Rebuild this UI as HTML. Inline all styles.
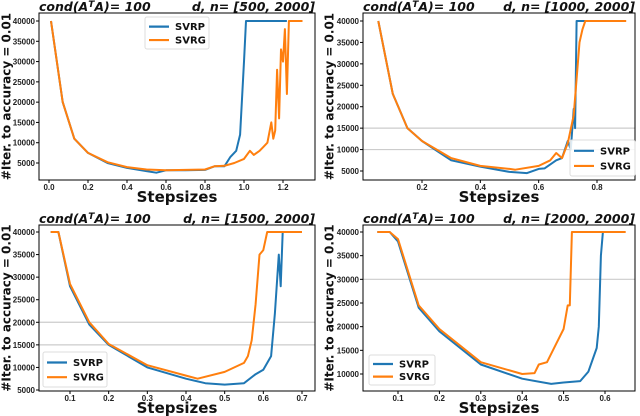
<!DOCTYPE html>
<html><head><meta charset="utf-8"><style>
body{margin:0;background:#fff;}
svg{display:block;font-family:"DejaVu Sans","Liberation Sans",sans-serif;}
.tk{font-size:8px;font-weight:bold;fill:#222;font-family:"Liberation Sans",sans-serif;}
.ttl{font-size:12.5px;font-weight:bold;font-style:italic;fill:#111;}
.xl{font-size:15px;font-weight:bold;fill:#111;}
.yl{font-size:12px;font-weight:bold;fill:#111;}
.lg{font-size:10px;font-weight:bold;fill:#111;}
</style></head><body>
<svg id="c" width="640" height="416" viewBox="0 0 640 416"></svg>
<script>
// Panel 1: d,n=[500,2000]
const p1_svrp_x=[0.01,0.07,0.13,0.2,0.3,0.4,0.5,0.55,0.6,0.7,0.8,0.85,0.9,0.93,0.96,0.98,1.0,1.01,1.22];
const p1_svrp_y=[40000,20000,11000,7500,5000,3800,3000,2600,3200,3200,3300,4200,4200,6500,8000,12000,30000,40000,40000];
const p1_svrg_x=[0.01,0.07,0.13,0.2,0.3,0.4,0.5,0.6,0.7,0.8,0.85,0.9,0.95,1.0,1.03,1.05,1.08,1.1,1.12,1.14,1.15,1.16,1.17,1.18,1.19,1.2,1.21,1.22,1.23,1.3];
const p1_svrg_y=[40000,20000,11000,7500,5200,4000,3400,3200,3300,3400,4200,4300,5000,6000,8000,7000,8000,9000,10000,15000,11000,13000,28000,16000,33000,30000,38000,22000,40000,40000];
// Panel 2: d,n=[1000,2000]
const p2_svrp_x=[0.05,0.1,0.15,0.2,0.3,0.4,0.5,0.56,0.6,0.62,0.66,0.68,0.7,0.71,0.72,0.725,0.73,0.76];
const p2_svrp_y=[40000,23000,15000,12000,7500,6000,4800,4500,5500,5600,7500,8000,12000,10000,19500,15000,40000,40000];
const p2_svrg_x=[0.05,0.1,0.15,0.2,0.3,0.4,0.5,0.52,0.6,0.64,0.66,0.68,0.7,0.72,0.74,0.75,0.76,0.9];
const p2_svrg_y=[40000,23000,15000,12000,8000,6200,5500,5300,6200,7500,9200,8000,11500,18000,35000,38000,40000,40000];
// Panel 3: d,n=[1500,2000]
const p3_svrp_x=[0.05,0.07,0.1,0.15,0.2,0.3,0.4,0.45,0.5,0.55,0.58,0.6,0.62,0.63,0.64,0.645,0.65];
const p3_svrp_y=[40000,40000,28000,19500,15000,10000,7500,6500,6200,6500,8500,9500,12500,22000,35000,28000,40000];
const p3_svrg_x=[0.05,0.07,0.1,0.15,0.2,0.3,0.4,0.43,0.5,0.55,0.56,0.57,0.58,0.59,0.6,0.61,0.7];
const p3_svrg_y=[40000,40000,28500,20000,15200,10500,8200,7500,9000,11000,12500,16000,24000,35000,36000,40000,40000];
// Panel 4: d,n=[2000,2000]
const p4_svrp_x=[0.05,0.08,0.1,0.15,0.2,0.3,0.4,0.47,0.5,0.54,0.56,0.58,0.585,0.59,0.595];
const p4_svrp_y=[40000,40000,38000,24000,19000,12000,9000,7900,8200,8500,10500,15500,20000,35000,40000];
const p4_svrg_x=[0.05,0.08,0.1,0.15,0.2,0.3,0.4,0.43,0.44,0.46,0.48,0.5,0.51,0.515,0.52,0.65];
const p4_svrg_y=[40000,40000,38500,24500,19500,12500,10000,10200,12000,12500,16000,19500,24500,24500,40000,40000];
const p1_xticks=[0.0,0.2,0.4,0.6,0.8,1.0,1.2];
const p2_xticks=[0.2,0.4,0.6,0.8];
const p3_xticks=[0.1,0.2,0.3,0.4,0.5,0.6,0.7];
const p4_xticks=[0.1,0.2,0.3,0.4,0.5,0.6];
const p1_yticks=[5000,10000,15000,20000,25000,30000,35000,40000];
const p2_yticks=[5000,10000,15000,20000,25000,30000,35000,40000];
const p3_yticks=[5000,10000,15000,20000,25000,30000,35000,40000];
const p4_yticks=[10000,15000,20000,25000,30000,35000,40000];
const p1_grid=[];const p2_grid=[15000,10000];const p3_grid=[20000,15000];const p4_grid=[30000];
const titles=["d, n= [500, 2000]","d, n= [1000, 2000]","d, n= [1500, 2000]","d, n= [2000, 2000]"];

const NS="http://www.w3.org/2000/svg";
const svg=document.getElementById('c');
function el(t,a,p){const e=document.createElementNS(NS,t);for(const k in a)e.setAttribute(k,a[k]);(p||svg).appendChild(e);return e;}

const panels=[
 {L:39,R:315,T:13,B:180,x0:0,x1:1.2,px0:49,px1:283,y0:40000,y1:5000,py0:21,py1:163,rp:[p1_svrp_x,p1_svrp_y],rg:[p1_svrg_x,p1_svrg_y],xt:p1_xticks,yt:p1_yticks,gr:p1_grid,lg:[145,17,64,32],ylx:7},
 {L:363,R:635,T:13,B:180,x0:0.2,x1:0.8,px0:422,px1:597,y0:40000,y1:5000,py0:21,py1:171,rp:[p2_svrp_x,p2_svrp_y],rg:[p2_svrg_x,p2_svrg_y],xt:p2_xticks,yt:p2_yticks,gr:p2_grid,lg:[570,140,65,36],ylx:330},
 {L:39,R:315,T:225,B:391,x0:0.1,x1:0.7,px0:70,px1:302,y0:40000,y1:5000,py0:232,py1:390,rp:[p3_svrp_x,p3_svrp_y],rg:[p3_svrg_x,p3_svrg_y],xt:p3_xticks,yt:p3_yticks,gr:p3_grid,lg:[43,352,64,35],ylx:7},
 {L:363,R:635,T:225,B:391,x0:0.1,x1:0.6,px0:398,px1:605,y0:40000,y1:10000,py0:232,py1:374,rp:[p4_svrp_x,p4_svrp_y],rg:[p4_svrg_x,p4_svrg_y],xt:p4_xticks,yt:p4_yticks,gr:p4_grid,lg:[369,355,66,30],ylx:330}
];

panels.forEach((P,i)=>{
 const g=el('g',{});
 
 
 const X=v=>P.px0+(v-P.x0)*(P.px1-P.px0)/(P.x1-P.x0);
 const Y=v=>P.py0+(v-P.y0)*(P.py1-P.py0)/(P.y1-P.y0);
 P.gr.forEach(v=>{const l=el('line',{x1:P.L,x2:P.R,y1:Y(v),y2:Y(v),stroke:'#ccc','stroke-width':1.2},g);
  });
 [[P.rp,'#1f77b4','svrp'],[P.rg,'#ff7f0e','svrg']].forEach(([s,c,n])=>{
  const d=s[0].map((x,k)=>(k?'L':'M')+X(x).toFixed(1)+','+Y(s[1][k]).toFixed(1)).join('');
  const p=el('path',{d:d,fill:'none',stroke:c,'stroke-width':2,'stroke-linejoin':'round'},g);
  
 });
 const fr=el('rect',{x:P.L,y:P.T,width:P.R-P.L,height:P.B-P.T,fill:'none',stroke:'#000','stroke-width':1},g);
 
 P.xt.forEach(v=>{const x=X(v);el('line',{x1:x,x2:x,y1:P.B,y2:P.B+3,stroke:'#000'},g);
  const t=el('text',{x:x,y:P.B+10,'text-anchor':'middle',class:'tk'},g);t.textContent=v.toFixed(1);
  });
 P.yt.forEach(v=>{const y=Y(v);el('line',{x1:P.L-3,x2:P.L,y1:y,y2:y,stroke:'#000'},g);
  const t=el('text',{x:P.L-4,y:y+3,'text-anchor':'end',class:'tk'},g);t.textContent=v;
  });
 const tl=el('text',{x:P.L,y:P.T-2,class:'ttl'},g);
 tl.innerHTML='cond(A<tspan dy="-4" font-size="9">T</tspan><tspan dy="4">A)= 100</tspan>';
 
 const tr=el('text',{x:P.R,y:P.T-2,'text-anchor':'end',class:'ttl'},g);tr.textContent=titles[i];
 
 const xl=el('text',{x:(P.L+P.R)/2,y:P.B+22,'text-anchor':'middle',class:'xl'},g);xl.textContent='Stepsizes';
 
 const cy=(P.T+P.B)/2;
 const yl=el('text',{x:P.ylx,y:cy,'text-anchor':'middle',class:'yl',transform:'rotate(-90 '+(P.ylx)+' '+cy+')','dominant-baseline':'middle'},g);
 yl.textContent='#Iter. to accuracy = 0.01';
 
 const [lx,ly,lw,lh]=P.lg;
 const lgG=el('g',{},g);
 
 el('rect',{x:lx,y:ly,width:lw,height:lh,rx:2,fill:'#fff','fill-opacity':0.85,stroke:'#ddd'},lgG);
 [['SVRP','#1f77b4'],['SVRG','#ff7f0e']].forEach(([n,c],k)=>{
  const yy=ly+lh*(k===0?0.3:0.72);
  el('line',{x1:lx+4,x2:lx+24,y1:yy,y2:yy,stroke:c,'stroke-width':2.2},lgG);
  const t=el('text',{x:lx+30,y:yy+3.5,class:'lg'},lgG);t.textContent=n;
  
 });
});
</script>
</body></html>
